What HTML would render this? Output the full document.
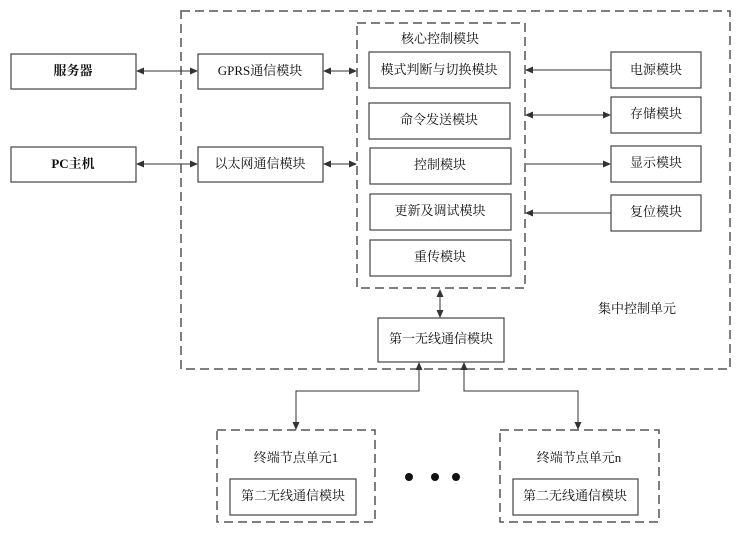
<!DOCTYPE html>
<html><head><meta charset="utf-8"><style>
body{margin:0;background:#fff}
svg text{font-family:"Liberation Serif","Noto Serif CJK SC","Noto Sans CJK SC",serif;font-size:13px;fill:#111;text-anchor:middle;dominant-baseline:middle}
</style></head><body>
<svg width="739" height="539" xmlns="http://www.w3.org/2000/svg">
<defs>
<marker id="a" markerWidth="8" markerHeight="8" refX="7" refY="4" orient="auto-start-reverse" markerUnits="userSpaceOnUse"><path d="M0,0.5 L8,4 L0,7.5 Z" fill="#333"/></marker>
</defs>
<g fill="none" stroke="#555" stroke-width="1.5" stroke-dasharray="9,5">
<rect x="181" y="11" width="549" height="358"/>
<rect x="357" y="23" width="168" height="265"/>
<rect x="217" y="430" width="158" height="92"/>
<rect x="500" y="430" width="159" height="92"/>
</g>
<g fill="#fff" stroke="#444" stroke-width="1.2">
<rect x="11" y="54" width="125" height="35"/>
<rect x="11" y="147" width="125" height="35"/>
<rect x="198" y="54" width="125" height="35"/>
<rect x="198" y="147" width="125" height="35"/>
<rect x="369" y="52" width="141" height="36"/>
<rect x="369" y="103" width="141" height="36"/>
<rect x="370" y="148" width="141" height="36"/>
<rect x="370" y="194" width="141" height="36"/>
<rect x="370" y="240" width="141" height="36"/>
<rect x="611" y="52" width="90" height="36"/>
<rect x="611" y="97" width="90" height="36"/>
<rect x="611" y="146" width="90" height="36"/>
<rect x="611" y="195" width="90" height="36"/>
<rect x="378" y="318" width="126" height="44"/>
<rect x="230" y="479" width="126" height="36"/>
<rect x="513" y="479" width="125" height="36"/>
</g>
<g stroke="#333" stroke-width="1" fill="none">
<line x1="137" y1="71" x2="197" y2="71" marker-start="url(#a)" marker-end="url(#a)"/>
<line x1="137" y1="164" x2="197" y2="164" marker-start="url(#a)" marker-end="url(#a)"/>
<line x1="324" y1="71" x2="356" y2="71" marker-start="url(#a)" marker-end="url(#a)"/>
<line x1="324" y1="164" x2="356" y2="164" marker-start="url(#a)" marker-end="url(#a)"/>
<line x1="611" y1="70" x2="526" y2="70" marker-end="url(#a)"/>
<line x1="526" y1="115" x2="610" y2="115" marker-start="url(#a)" marker-end="url(#a)"/>
<line x1="526" y1="164" x2="610" y2="164" marker-end="url(#a)"/>
<line x1="611" y1="213" x2="526" y2="213" marker-end="url(#a)"/>
<line x1="440" y1="290" x2="440" y2="317" marker-start="url(#a)" marker-end="url(#a)"/>
<polyline points="296,429 296,391 419,391 419,363" marker-start="url(#a)" marker-end="url(#a)"/>
<polyline points="578,429 578,391 464,391 464,363" marker-start="url(#a)" marker-end="url(#a)"/>
</g>
<g fill="#111"><circle cx="409" cy="477" r="4"/><circle cx="435" cy="477" r="4"/><circle cx="456" cy="477" r="4"/></g>
<text x="73" y="72" font-weight="bold">服务器</text>
<text x="73" y="165" font-weight="bold">PC主机</text>
<text x="260" y="72">GPRS通信模块</text>
<text x="260" y="165">以太网通信模块</text>
<text x="440" y="40">核心控制模块</text>
<text x="439" y="71">模式判断与切换模块</text>
<text x="439" y="121">命令发送模块</text>
<text x="440" y="166">控制模块</text>
<text x="440" y="212">更新及调试模块</text>
<text x="440" y="258">重传模块</text>
<text x="656" y="71">电源模块</text>
<text x="656" y="115">存储模块</text>
<text x="656" y="164">显示模块</text>
<text x="656" y="213">复位模块</text>
<text x="637" y="310">集中控制单元</text>
<text x="441" y="340">第一无线通信模块</text>
<text x="296" y="459">终端节点单元1</text>
<text x="293" y="497">第二无线通信模块</text>
<text x="579" y="459">终端节点单元n</text>
<text x="575" y="497">第二无线通信模块</text>
</svg>
</body></html>
